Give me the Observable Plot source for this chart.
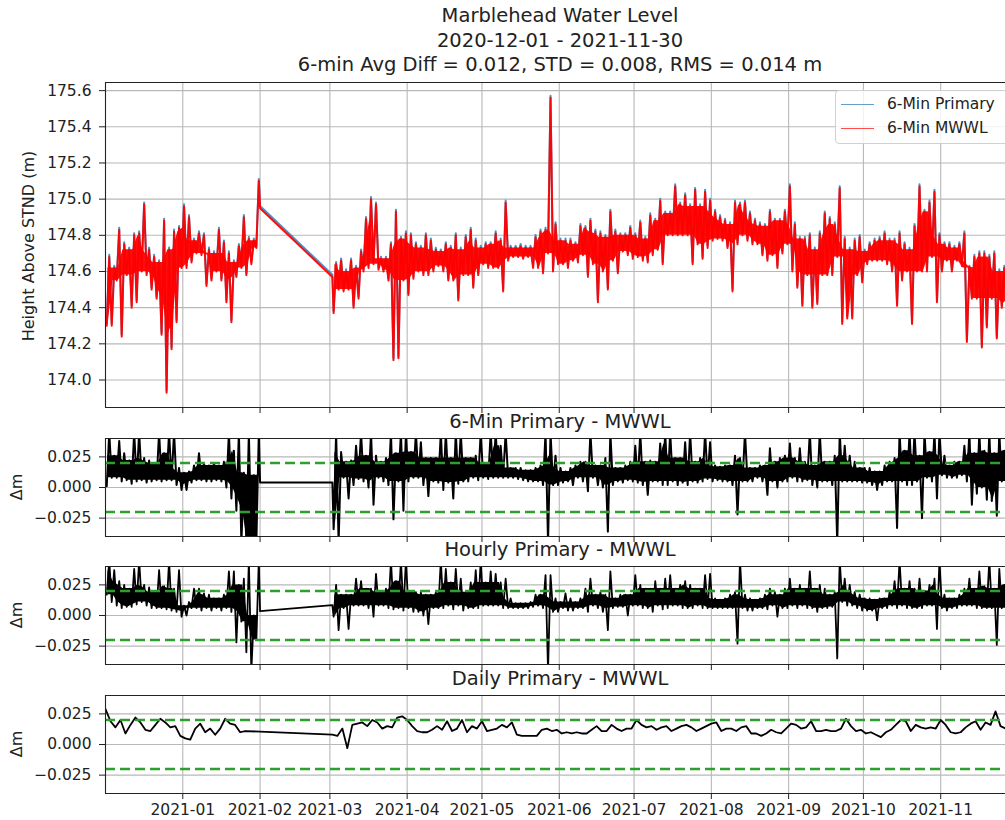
<!DOCTYPE html>
<html>
<head>
<meta charset="utf-8">
<script src="https://cdn.jsdelivr.net/npm/d3@7"></script>
<script src="https://cdn.jsdelivr.net/npm/@observablehq/plot@0.6"></script>
<style>
html, body { margin: 0; padding: 0; background: #fff; overflow: hidden; }
#fig { position: relative; width: 1005px; height: 820px; overflow: hidden; font-family: "DejaVu Sans", sans-serif; color: #222; }
.panel { position: absolute; left: 0; }
.title { position: absolute; left: 0; width: 1120px; text-align: center; font-size: 19.5px; line-height: 24.2px; white-space: nowrap; }
.ylab { position: absolute; font-size: 16px; line-height: 18.6px; white-space: nowrap; transform: translate(-50%, -50%) rotate(-90deg); }
#legend { position: absolute; left: 835px; top: 90px; width: 200px; height: 52px; border: 1px solid #d0d0d0; border-radius: 4px; background: rgba(255,255,255,0.8); }
.sw { position: absolute; left: 5px; width: 33px; height: 0; }
.lt { position: absolute; left: 51px; font-size: 15.5px; line-height: 18px; white-space: nowrap; }
</style>
</head>
<body>
<div id="fig">
  <div id="p1" class="panel" style="top:80px"></div>
  <div id="p2" class="panel" style="top:436px"></div>
  <div id="p3" class="panel" style="top:564px"></div>
  <div id="p4" class="panel" style="top:693px"></div>
  <div class="title" style="top:4.3px">Marblehead Water Level<br>2020-12-01 - 2021-11-30<br>6-min Avg Diff = 0.012, STD = 0.008, RMS = 0.014 m</div>
  <div class="title" style="top:410px">6-Min Primary - MWWL</div>
  <div class="title" style="top:538.3px">Hourly Primary - MWWL</div>
  <div class="title" style="top:666.6px">Daily Primary - MWWL</div>
  <div class="ylab" style="left:29px;top:246px">Height Above STND (m)</div>
  <div class="ylab" style="left:16.5px;top:487px">Δm</div>
  <div class="ylab" style="left:16.5px;top:615px">Δm</div>
  <div class="ylab" style="left:16.5px;top:744px">Δm</div>
  <div id="legend">
    <div class="sw" style="top:12.5px;border-top:1.5px solid rgba(31,119,180,0.7)"></div>
    <div class="lt" style="top:3.5px">6-Min Primary</div>
    <div class="sw" style="top:36.9px;border-top:1.5px solid rgba(255,0,0,0.7)"></div>
    <div class="lt" style="top:27.9px">6-Min MWWL</div>
  </div>
</div>
<script>
// ---------- axes / layout values ----------
const xDomain = ["2020-12-01", "2021-12-01"];
const monthTicks = ["2021-01-01","2021-02-01","2021-03-01","2021-04-01","2021-05-01","2021-06-01",
                    "2021-07-01","2021-08-01","2021-09-01","2021-10-01","2021-11-01"];
const levelDomain = [173.848, 175.645];
const levelTicks = [174.0, 174.2, 174.4, 174.6, 174.8, 175.0, 175.2, 175.4, 175.6];
const diffDomain = [-0.04, 0.04];
const diffTicks = [-0.025, 0, 0.025];
const diffLimits = [-0.02, 0.02];
const avgDiff = 0.012; // "6-min Avg Diff" (Primary - MWWL)

// ---------- data: two record segments, 2-day bins (low, high) ----------
const seg1Start = "2020-12-01";
const seg2Start = "2021-03-02";
const binDays = 2;
const gapDates = ["2021-02-01", "2021-03-02"];

// 6-Min MWWL water level (m)
const mwwlLo1 = [174.30,174.30,174.55,174.24,174.58,174.40,174.43,174.60,174.58,174.50,
                 174.45,174.25,173.93,174.17,174.32,174.62,174.62,174.65,174.70,174.69,
                 174.52,174.55,174.60,174.55,174.43,174.32,174.57,174.62,174.58,174.64,174.73];
const mwwlHi1 = [174.68,174.62,174.83,174.75,174.72,174.80,174.81,174.97,174.72,174.68,
                 174.65,174.88,174.72,174.82,174.84,174.96,174.90,174.77,174.81,174.80,
                 174.72,174.70,174.83,174.76,174.70,174.65,174.74,174.90,174.78,174.77,175.10];
const mwwlGap = [174.95, 174.57];
const mwwlLo2 = [174.37,174.50,174.49,174.50,174.40,174.45,174.60,174.62,174.64,174.61,
                 174.60,174.55,174.11,174.12,174.55,174.47,174.56,174.60,174.58,174.58,
                 174.60,174.63,174.60,174.55,174.55,174.44,174.58,174.58,174.51,174.58,
                 174.64,174.62,174.62,174.62,174.49,174.66,174.68,174.68,174.67,174.68,
                 174.62,174.62,174.59,174.70,174.60,174.64,174.64,174.62,174.66,174.65,
                 174.69,174.57,174.64,174.43,174.60,174.50,174.66,174.59,174.71,174.69,
                 174.67,174.68,174.66,174.65,174.69,174.72,174.64,174.80,174.80,174.80,
                 174.80,174.80,174.64,174.75,174.67,174.73,174.77,174.78,174.77,174.73,
                 174.49,174.75,174.80,174.77,174.75,174.75,174.69,174.66,174.69,174.62,
                 174.70,174.75,174.60,174.51,174.41,174.58,174.40,174.42,174.58,174.58,
                 174.58,174.68,174.31,174.34,174.34,174.58,174.54,174.64,174.66,174.66,
                 174.66,174.64,174.60,174.41,174.55,174.60,174.31,174.60,174.60,174.60,
                 174.68,174.43,174.60,174.66,174.60,174.66,174.63,174.21,174.45,174.45,
                 174.18,174.29,174.45,174.23,174.40,174.42,174.45];
const mwwlHi2 = [174.64,174.66,174.60,174.66,174.62,174.71,174.89,175.00,174.97,174.67,
                 174.67,174.75,174.93,174.78,174.81,174.80,174.75,174.73,174.80,174.77,
                 174.72,174.71,174.75,174.73,174.80,174.72,174.79,174.83,174.77,174.73,
                 174.75,174.75,174.81,174.77,174.98,174.73,174.73,174.74,174.73,174.73,
                 174.79,174.82,174.83,175.56,174.86,174.77,174.77,174.77,174.75,174.85,
                 174.84,174.88,174.82,174.81,174.79,174.93,174.82,174.80,174.80,174.84,
                 174.80,174.87,174.78,174.91,174.88,174.99,174.92,174.92,175.07,174.97,
                 175.02,174.96,175.05,174.96,175.04,174.99,174.93,174.90,174.88,174.86,
                 174.98,174.97,174.98,174.92,174.88,174.86,174.85,174.93,174.88,174.88,
                 174.93,175.07,174.86,174.78,174.78,174.80,174.72,174.81,174.92,174.89,
                 174.86,175.06,174.78,174.72,174.77,174.79,174.71,174.75,174.77,174.78,
                 174.81,174.77,174.77,174.81,174.75,174.72,174.85,175.07,174.93,174.98,
                 175.04,174.80,174.75,174.75,174.73,174.75,174.81,174.62,174.68,174.70,
                 174.70,174.68,174.70,174.60,174.62,174.60,174.62];

// 6-Min Primary - MWWL (m)
const diff6Lo1 = [0.001,0.008,0.008,0.005,0.006,0.003,0.005,0.006,0.004,0.005,
                  0.006,0.005,0.006,0.006,0.002,-0.002,-0.002,0.004,0.006,0.006,
                  0.005,0.005,0.006,0.005,0.000,-0.009,-0.019,-0.045,-0.045,-0.045,-0.045];
const diff6Hi1 = [0.045,0.026,0.038,0.028,0.022,0.045,0.045,0.024,0.022,0.020,
                  0.045,0.028,0.045,0.045,0.016,0.012,0.013,0.018,0.028,0.020,
                  0.018,0.020,0.018,0.021,0.045,0.030,0.045,0.012,0.045,0.010,0.045];
const diff6Gap = [0.004, 0.004];
const diff6Lo2 = [-0.034,-0.045,0.008,-0.009,0.002,0.007,0.005,0.000,-0.014,0.008,
                  0.005,0.002,-0.026,0.005,-0.019,0.005,0.008,0.008,0.002,-0.007,
                  0.005,0.004,-0.002,0.004,-0.009,0.003,0.005,0.005,0.008,0.006,
                  0.008,0.007,0.008,0.008,0.008,0.008,0.008,0.007,0.006,0.005,
                  0.005,0.005,0.002,-0.045,0.002,0.002,0.004,0.005,0.002,0.008,
                  0.005,-0.003,0.008,0.002,0.000,-0.036,0.002,0.005,0.004,0.006,
                  0.005,0.004,0.002,-0.006,0.005,0.005,0.002,0.002,0.005,0.002,
                  0.004,0.002,0.005,0.004,0.005,0.007,0.005,0.006,0.005,0.005,
                  0.002,-0.022,0.005,0.005,0.005,0.008,0.005,-0.006,0.005,0.000,
                  0.005,0.005,0.008,0.005,0.005,0.006,0.002,0.000,0.005,0.005,
                  0.002,-0.045,0.005,0.005,0.005,0.005,0.004,0.004,0.002,-0.002,
                  0.002,0.005,0.005,-0.033,0.005,0.002,0.002,0.005,-0.025,0.008,
                  0.005,-0.009,0.010,0.008,0.008,0.008,0.010,0.005,-0.014,-0.005,
                  0.000,-0.010,-0.011,-0.023,0.005,0.005,0.005];
const diff6Hi2 = [0.045,0.029,0.021,0.022,0.034,0.045,0.026,0.045,0.026,0.021,
                  0.024,0.045,0.028,0.045,0.045,0.029,0.045,0.037,0.024,0.024,
                  0.024,0.045,0.045,0.024,0.045,0.045,0.024,0.024,0.026,0.045,
                  0.020,0.045,0.045,0.034,0.045,0.016,0.016,0.016,0.014,0.014,
                  0.016,0.018,0.045,0.045,0.026,0.016,0.013,0.016,0.018,0.021,
                  0.021,0.045,0.018,0.018,0.024,0.045,0.016,0.016,0.018,0.021,
                  0.034,0.045,0.021,0.022,0.021,0.036,0.045,0.045,0.024,0.024,
                  0.037,0.045,0.021,0.024,0.045,0.037,0.018,0.017,0.018,0.018,
                  0.026,0.024,0.045,0.016,0.016,0.018,0.018,0.032,0.021,0.024,
                  0.026,0.036,0.024,0.032,0.021,0.045,0.018,0.045,0.021,0.021,
                  0.026,0.045,0.034,0.026,0.021,0.016,0.016,0.016,0.013,0.013,
                  0.018,0.021,0.024,0.045,0.030,0.045,0.045,0.026,0.045,0.029,
                  0.045,0.045,0.026,0.018,0.021,0.021,0.034,0.045,0.028,0.045,
                  0.030,0.045,0.028,0.045,0.030,0.030,0.030];

// Hourly Primary - MWWL (m)
const hourlyLo1 = [0.017,0.011,0.008,0.006,0.007,0.007,0.009,0.011,0.008,0.006,
                   0.006,0.006,0.005,0.004,0.003,-0.001,0.000,0.006,0.006,0.004,
                   0.006,0.004,0.006,0.004,0.006,0.003,-0.022,-0.005,-0.030,-0.045,-0.020];
const hourlyHi1 = [0.045,0.037,0.028,0.025,0.022,0.038,0.045,0.025,0.023,0.019,
                   0.037,0.024,0.045,0.022,0.037,0.008,0.011,0.022,0.022,0.018,
                   0.017,0.014,0.014,0.017,0.036,0.036,0.025,0.030,0.045,0.000,0.045];
const hourlyGap = [0.0035, 0.0085];
const hourlyLo2 = [-0.001,-0.012,0.006,-0.011,0.008,0.008,0.008,0.006,-0.001,0.008,
                   0.008,0.006,0.005,0.006,0.004,0.006,0.003,0.003,0.000,-0.007,
                   0.006,0.006,0.006,0.008,0.005,0.008,0.004,0.006,0.006,0.006,
                   0.008,0.008,0.008,0.008,0.006,0.006,0.006,0.006,0.006,0.006,
                   0.007,0.008,0.006,-0.045,0.003,0.003,0.006,0.004,0.004,0.006,
                   0.006,0.003,0.008,0.006,0.003,-0.012,0.006,0.007,0.007,0.000,
                   0.008,0.008,0.006,0.006,0.003,0.008,0.005,0.006,0.008,0.008,
                   0.006,0.006,0.006,0.008,0.006,0.006,0.006,0.006,0.006,0.006,
                   0.006,-0.023,0.006,0.004,0.004,0.006,0.006,0.005,0.008,-0.001,
                   0.006,0.006,0.008,0.006,0.008,0.006,0.006,0.003,0.006,0.006,
                   0.007,-0.035,0.011,0.008,0.008,0.006,0.004,0.004,0.004,-0.004,
                   0.006,0.006,0.008,0.006,0.008,0.006,0.006,0.006,0.006,0.008,
                   0.008,-0.011,0.006,0.004,0.006,0.006,0.008,0.008,0.008,0.006,
                   0.006,0.006,0.006,-0.024,0.006,0.006,0.006];
const hourlyHi2 = [0.025,0.017,0.017,0.017,0.030,0.028,0.022,0.022,0.034,0.019,
                   0.022,0.045,0.028,0.045,0.045,0.019,0.019,0.019,0.017,0.017,
                   0.019,0.045,0.038,0.027,0.038,0.030,0.019,0.027,0.037,0.045,
                   0.027,0.036,0.034,0.027,0.030,0.014,0.010,0.010,0.010,0.011,
                   0.017,0.017,0.033,0.033,0.014,0.011,0.018,0.014,0.011,0.014,
                   0.022,0.030,0.017,0.019,0.017,0.036,0.014,0.017,0.017,0.017,
                   0.033,0.025,0.022,0.022,0.028,0.022,0.030,0.033,0.022,0.025,
                   0.028,0.025,0.022,0.022,0.033,0.034,0.014,0.013,0.014,0.017,
                   0.019,0.045,0.017,0.014,0.013,0.014,0.017,0.022,0.019,0.017,
                   0.022,0.030,0.022,0.025,0.022,0.036,0.022,0.025,0.022,0.017,
                   0.019,0.045,0.030,0.025,0.019,0.017,0.014,0.014,0.013,0.014,
                   0.014,0.019,0.028,0.045,0.022,0.028,0.022,0.030,0.020,0.025,
                   0.030,0.045,0.017,0.014,0.014,0.017,0.022,0.030,0.022,0.036,
                   0.024,0.045,0.022,0.038,0.025,0.025,0.025];

// Daily Primary - MWWL (m), every 2nd day
const daily1 = [0.029,0.019,0.014,0.020,0.009,0.016,0.022,0.018,0.012,0.011,
                0.016,0.021,0.018,0.014,0.015,0.007,0.005,0.004,0.013,0.017,
                0.010,0.013,0.008,0.013,0.021,0.017,0.016,0.010,0.011];
const daily2 = [0.008,0.007,0.013,-0.003,0.016,0.017,0.018,0.015,0.020,0.018,
                0.013,0.015,0.014,0.022,0.023,0.020,0.015,0.011,0.010,0.010,
                0.012,0.015,0.012,0.019,0.011,0.013,0.020,0.010,0.015,0.013,
                0.019,0.011,0.012,0.013,0.016,0.014,0.018,0.008,0.007,0.007,
                0.007,0.007,0.012,0.013,0.011,
                0.012,0.009,0.010,0.009,0.010,0.009,0.009,0.012,0.015,0.011,
                0.011,0.016,0.013,0.011,0.013,0.013,0.020,0.016,0.014,0.015,
                0.012,0.014,0.015,0.011,0.013,0.015,0.016,0.014,0.011,0.013,
                0.015,0.017,0.018,0.011,0.013,0.013,0.011,0.014,0.015,0.009,
                0.009,0.007,0.009,0.012,0.010,
                0.009,0.013,0.017,0.016,0.013,0.014,0.019,0.011,0.011,0.012,
                0.011,0.011,0.013,0.021,0.015,0.011,0.012,0.009,0.010,0.008,
                0.006,0.010,0.012,0.016,0.020,0.019,0.011,0.016,0.014,0.013,
                0.014,0.013,0.020,0.016,0.010,0.009,0.010,0.014,0.017,0.019,
                0.012,0.018,0.016,0.027,0.015,0.013,0.014];

// ---------- build point tables ----------
const DAY = 864e5;
function zigzag(start, lo, hi) {
  const t0 = Date.parse(start), pts = [];
  for (let i = 0; i < lo.length; i++) {
    pts.push({x: new Date(t0 + (i * binDays + 0.5) * DAY), y: lo[i]});
    pts.push({x: new Date(t0 + (i * binDays + 1.5) * DAY), y: hi[i]});
  }
  return pts;
}
// dense core of each bin: the range shared with its neighbours (isolated spikes excluded)
function core(start, lo, hi) {
  const t0 = Date.parse(start), n = lo.length, out = [];
  for (let i = 0; i < n; i++) {
    const a = Math.max(0, i - 1), b = Math.min(n - 1, i + 1);
    const l = d3.max(lo.slice(a, b + 1)), h = d3.min(hi.slice(a, b + 1));
    out.push({x: new Date(t0 + (i * binDays + 1) * DAY), y1: Math.min(l, h), y2: Math.max(l, h)});
  }
  return out;
}
function gapPts(vals) { return gapDates.map((d, i) => ({x: new Date(d), y: vals[i]})); }
function series(lo1, hi1, gap, lo2, hi2) {
  return [...zigzag(seg1Start, lo1, hi1), ...gapPts(gap), ...zigzag(seg2Start, lo2, hi2)];
}
function cores(lo1, hi1, lo2, hi2) {
  return [core(seg1Start, lo1, hi1), core(seg2Start, lo2, hi2)];
}
function everyOther(start, vals) {
  const t0 = Date.parse(start);
  return vals.map((v, i) => ({x: new Date(t0 + i * binDays * DAY), y: v}));
}

const mwwl = series(mwwlLo1, mwwlHi1, mwwlGap, mwwlLo2, mwwlHi2);
const mwwlCore = cores(mwwlLo1, mwwlHi1, mwwlLo2, mwwlHi2);
const primary = mwwl.map(d => ({x: d.x, y: d.y + avgDiff}));
const diff6 = series(diff6Lo1, diff6Hi1, diff6Gap, diff6Lo2, diff6Hi2);
const diff6Core = cores(diff6Lo1, diff6Hi1, diff6Lo2, diff6Hi2);
const hourly = series(hourlyLo1, hourlyHi1, hourlyGap, hourlyLo2, hourlyHi2);
const hourlyCore = cores(hourlyLo1, hourlyHi1, hourlyLo2, hourlyHi2);
const daily = [...everyOther(seg1Start, daily1), ...everyOther(seg2Start, daily2)];

const xDom = xDomain.map(d => new Date(d));
const monthDates = monthTicks.map(d => new Date(d));
const INK = "#222";
const GRID = "#b8b8b8";

function panel(o) {
  return Plot.plot({
    width: 1005, height: o.height,
    marginLeft: 105, marginRight: 0, marginTop: 2, marginBottom: o.mb,
    x: {type: "utc", domain: xDom, range: [105, 1015]},
    y: {domain: o.yDomain},
    style: {fontFamily: "DejaVu Sans", fontSize: "15.5px", color: INK, background: "transparent", overflow: "visible"},
    marks: [
      Plot.gridX(monthDates, {stroke: GRID, strokeOpacity: 1, strokeWidth: 1.1}),
      Plot.gridY(o.yTicks, {stroke: GRID, strokeOpacity: 1, strokeWidth: 1.1}),
      ...o.marks,
      Plot.ruleX([xDom[0]], {stroke: INK, strokeWidth: 1.1}),
      Plot.ruleY(o.yDomain, {stroke: INK, strokeWidth: 1.1}),
      Plot.axisX(monthDates, {anchor: "bottom", tickSize: 6, tickPadding: 4, label: null,
        tickFormat: o.xLabels ? d3.utcFormat("%Y-%m") : () => "", fontSize: 15.5}),
      Plot.axisY(o.yTicks, {anchor: "left", tickSize: 6, tickPadding: 8, label: null,
        tickFormat: o.yFormat, fontSize: 15.5})
    ]
  });
}

function bandMarks(coreSegs, pts, color, w, op) {
  return [
    ...coreSegs.map(seg => Plot.areaY(seg, {x: "x", y1: "y1", y2: "y2", fill: color, fillOpacity: op, clip: true})),
    Plot.line(pts, {x: "x", y: "y", stroke: color, strokeOpacity: op, strokeWidth: w, clip: true})
  ];
}
const limitMark = () => Plot.ruleY(diffLimits, {stroke: "#2ca02c", strokeWidth: 2.6, strokeDasharray: "10,5"});

document.getElementById("p1").append(panel({
  height: 337, mb: 10, yDomain: levelDomain, yTicks: levelTicks, yFormat: d3.format(".1f"), xLabels: false,
  marks: [
    Plot.line(primary, {x: "x", y: "y", stroke: "#1f77b4", strokeOpacity: 0.8, strokeWidth: 2, clip: true}),
    ...bandMarks(mwwlCore, mwwl, "red", 2, 0.95)
  ]
}));
document.getElementById("p2").append(panel({
  height: 110, mb: 10, yDomain: diffDomain, yTicks: diffTicks, yFormat: d3.format(".3f"), xLabels: false,
  marks: [...bandMarks(diff6Core, diff6, "black", 2, 1), limitMark()]
}));
document.getElementById("p3").append(panel({
  height: 110, mb: 10, yDomain: diffDomain, yTicks: diffTicks, yFormat: d3.format(".3f"), xLabels: false,
  marks: [...bandMarks(hourlyCore, hourly, "black", 1.8, 1), limitMark()]
}));
document.getElementById("p4").append(panel({
  height: 127, mb: 27, yDomain: diffDomain, yTicks: diffTicks, yFormat: d3.format(".3f"), xLabels: true,
  marks: [Plot.line(daily, {x: "x", y: "y", stroke: "black", strokeWidth: 1.8, clip: true}), limitMark()]
}));
</script>
</body>
</html>
